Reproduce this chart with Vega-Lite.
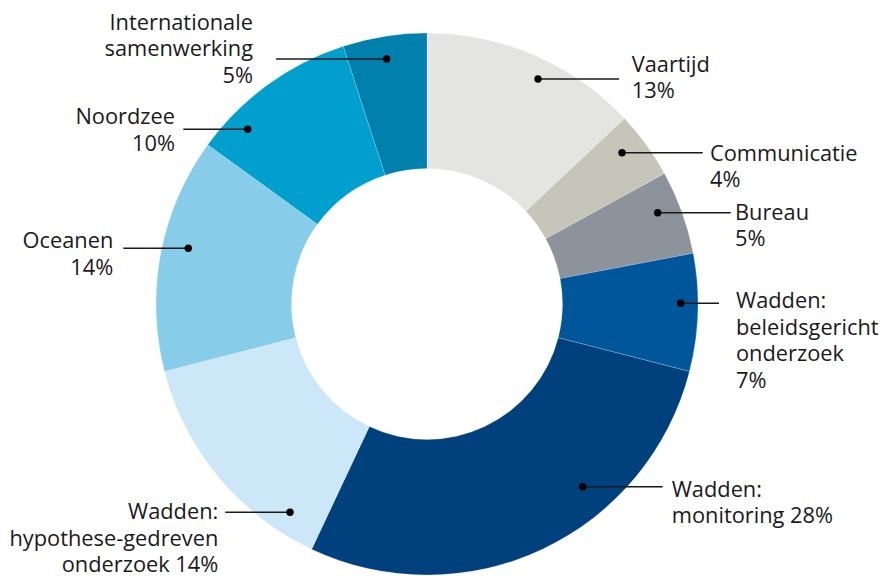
{
  "$schema": "https://vega.github.io/schema/vega-lite/v6.json",
  "width": 854,
  "height": 544,
  "autosize": "none",
  "padding": {"left": 0, "top": 32, "right": 30, "bottom": 0},
  "background": "white",
  "config": {"view": {"stroke": null}},
  "datasets": {
    "slices": [
      {"category": "Vaartijd", "pct": 13, "rank": 1},
      {"category": "Communicatie", "pct": 4, "rank": 2},
      {"category": "Bureau", "pct": 5, "rank": 3},
      {"category": "Wadden: beleidsgericht onderzoek", "pct": 7, "rank": 4},
      {"category": "Wadden: monitoring", "pct": 28, "rank": 5},
      {"category": "Wadden: hypothese-gedreven onderzoek", "pct": 14, "rank": 6},
      {"category": "Oceanen", "pct": 14, "rank": 7},
      {"category": "Noordzee", "pct": 10, "rank": 8},
      {"category": "Internationale samenwerking", "pct": 5, "rank": 9}
    ],
    "labels": [
      {"label": "Vaartijd\n13%", "dotX": 40.96, "dotY": 83.03, "lineEndX": 70.85, "textX": 75.54, "textY": 85.72},
      {"label": "Communicatie\n4%", "dotX": 71.96, "dotY": 55.83, "lineEndX": 101.73, "textX": 104.43, "textY": 52.88},
      {"label": "Bureau\n5%", "dotX": 85.13, "dotY": 33.69, "lineEndX": 112.07, "textX": 113.65, "textY": 31.0},
      {"label": "Wadden:\nbeleidsgericht\nonderzoek\n7%", "dotX": 93.62, "dotY": 0.26, "lineEndX": 107.75, "textX": 114.02, "textY": -1.59},
      {"label": "Wadden:\nmonitoring 28%", "dotX": 57.45, "dotY": -67.42, "lineEndX": 86.97, "textX": 90.3, "textY": -71.11},
      {"label": "Wadden:\nhypothese-gedreven\nonderzoek 14%", "dotX": -50.55, "dotY": -76.86, "lineEndX": -74.43, "textX": -77.01, "textY": -79.5},
      {"label": "Oceanen\n14%", "dotX": -88.08, "dotY": 20.55, "lineEndX": -112.07, "textX": -115.76, "textY": 20.55},
      {"label": "Noordzee\n10%", "dotX": -66.16, "dotY": 64.46, "lineEndX": -89.93, "textX": -92.99, "textY": 66.42},
      {"label": "Internationale\nsamenwerking\n5%", "dotX": -14.87, "dotY": 90.41, "lineEndX": -55.72, "textX": -64.21, "textY": 101.11}
    ]
  },
  "layer": [
    {
      "data": {"name": "slices"},
      "mark": {"type": "arc", "radius": 271, "radius2": 135.5, "stroke": "#ffffff", "strokeWidth": 0.2},
      "encoding": {
        "theta": {"field": "pct", "type": "quantitative", "stack": true},
        "order": {"field": "rank", "type": "quantitative"},
        "color": {
          "field": "category",
          "type": "nominal",
          "legend": null,
          "scale": {
            "domain": ["Vaartijd", "Communicatie", "Bureau", "Wadden: beleidsgericht onderzoek", "Wadden: monitoring", "Wadden: hypothese-gedreven onderzoek", "Oceanen", "Noordzee", "Internationale samenwerking"],
            "range": ["#e4e5e3", "#c6c5b9", "#8d939b", "#00569b", "#00407c", "#cbe7f8", "#87cde9", "#009fce", "#0080ac"]
          }
        }
      }
    },
    {
      "data": {"name": "labels"},
      "mark": {"type": "rule", "color": "#1a1a1a", "strokeWidth": 1.4},
      "encoding": {
        "x": {"field": "dotX", "type": "quantitative", "axis": null, "scale": {"domain": [-157.56, 157.56], "nice": false, "zero": false}},
        "x2": {"field": "lineEndX"},
        "y": {"field": "dotY", "type": "quantitative", "axis": null, "scale": {"domain": [-100.37, 100.37], "nice": false, "zero": false}}
      }
    },
    {
      "data": {"name": "labels"},
      "mark": {"type": "point", "shape": "circle", "filled": true, "size": 55, "color": "#000000", "opacity": 1},
      "encoding": {
        "x": {"field": "dotX", "type": "quantitative", "axis": null, "scale": {"domain": [-157.56, 157.56], "nice": false, "zero": false}},
        "y": {"field": "dotY", "type": "quantitative", "axis": null, "scale": {"domain": [-100.37, 100.37], "nice": false, "zero": false}}
      }
    },
    {
      "data": {"name": "labels"},
      "transform": [{"filter": "datum.textX > 0"}],
      "mark": {"type": "text", "align": "left", "baseline": "alphabetic", "font": "Open Sans", "fontSize": 21.8, "lineBreak": "\n", "lineHeight": 26.5, "color": "#1a1a1a"},
      "encoding": {
        "x": {"field": "textX", "type": "quantitative", "axis": null, "scale": {"domain": [-157.56, 157.56], "nice": false, "zero": false}},
        "y": {"field": "textY", "type": "quantitative", "axis": null, "scale": {"domain": [-100.37, 100.37], "nice": false, "zero": false}},
        "text": {"field": "label"}
      }
    },
    {
      "data": {"name": "labels"},
      "transform": [{"filter": "datum.textX < 0"}],
      "mark": {"type": "text", "align": "right", "baseline": "alphabetic", "font": "Open Sans", "fontSize": 21.8, "lineBreak": "\n", "lineHeight": 26.5, "color": "#1a1a1a"},
      "encoding": {
        "x": {"field": "textX", "type": "quantitative", "axis": null, "scale": {"domain": [-157.56, 157.56], "nice": false, "zero": false}},
        "y": {"field": "textY", "type": "quantitative", "axis": null, "scale": {"domain": [-100.37, 100.37], "nice": false, "zero": false}},
        "text": {"field": "label"}
      }
    }
  ]
}
